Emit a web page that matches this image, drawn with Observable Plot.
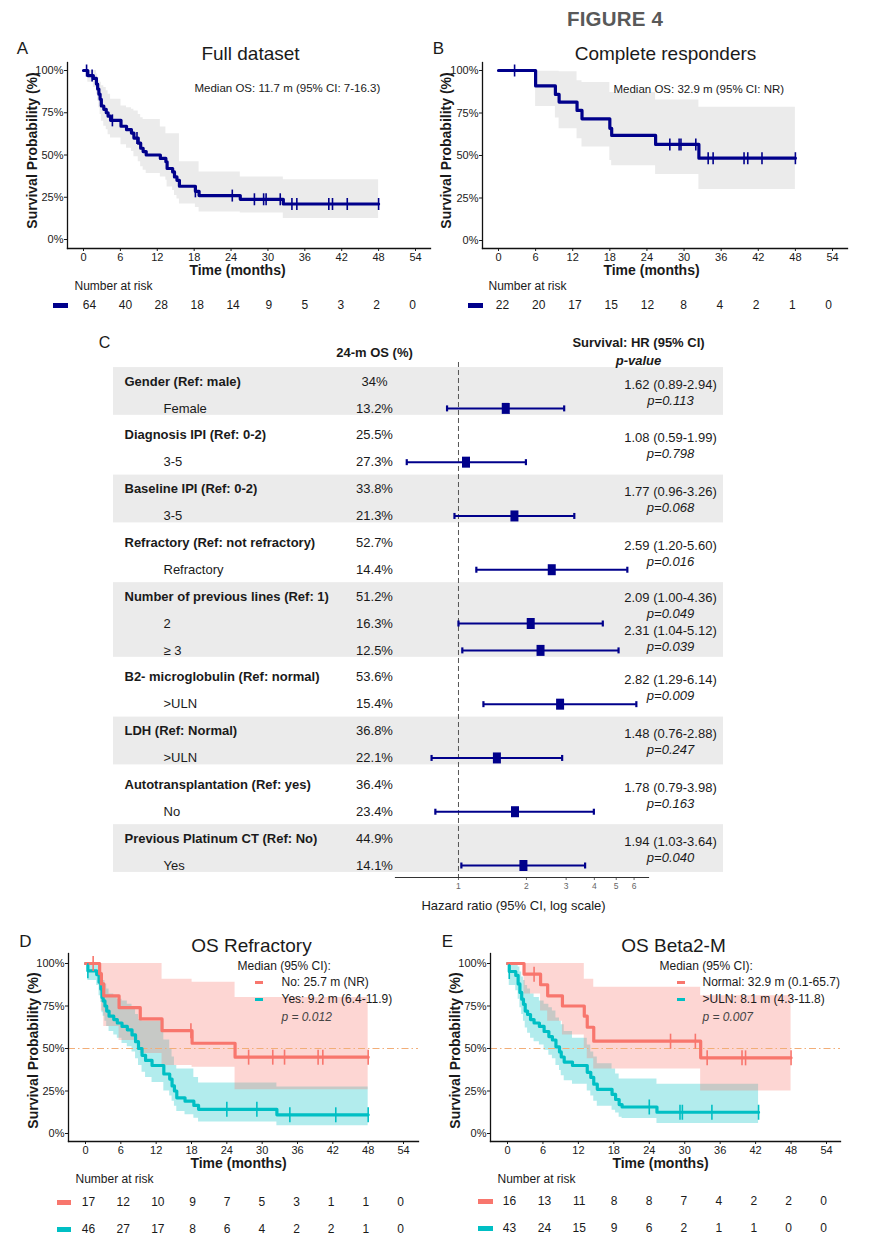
<!DOCTYPE html>
<html><head><meta charset="utf-8">
<script src="https://cdn.jsdelivr.net/npm/d3@7"></script>
<script src="https://cdn.jsdelivr.net/npm/@observablehq/plot@0.6"></script>
<style>
body{margin:0;background:#fff;}
#fig{position:relative;width:872px;height:1258px;background:#fff;font-family:'Liberation Sans',Arial,Helvetica,sans-serif;color:#1a1a1a;overflow:hidden}
#fig svg{position:absolute;overflow:visible}
.sw{position:absolute}
.ftitle{position:absolute;left:567px;top:7px;font-weight:bold;font-size:20.5px;color:#595959;letter-spacing:0.2px}
</style></head><body><div id="fig"><div class="ftitle">FIGURE 4</div></div>
<script>
// ---------- shared ----------
const monthTicks = [0,6,12,18,24,30,36,42,48,54];
const pctTicks = [0,0.25,0.5,0.75,1];
const medianLevel = 0.5;

// ---------- Panel A: Full dataset ----------
const aTime  = [0,0.7,1.6,2.1,2.3,2.5,2.7,2.9,3.3,3.7,4.0,4.4,6.1,7.0,7.8,8.2,8.9,9.3,9.7,10.2,12.5,13.4,13.6,14.5,14.8,15.2,15.6,18.2,18.8,25.5,32.5,48];
const aSurv  = [1,0.97,0.953,0.92,0.89,0.86,0.83,0.79,0.77,0.75,0.73,0.705,0.67,0.65,0.63,0.60,0.57,0.54,0.52,0.50,0.48,0.46,0.42,0.40,0.37,0.35,0.315,0.285,0.26,0.238,0.21,0.21];
const aUpper = [1,1,1,0.98,0.96,0.94,0.93,0.91,0.90,0.88,0.86,0.83,0.79,0.78,0.77,0.76,0.74,0.72,0.71,0.71,0.665,0.626,0.626,0.626,0.626,0.626,0.46,0.46,0.40,0.37,0.354,0.354];
const aLower = [1,0.93,0.90,0.86,0.82,0.78,0.74,0.70,0.67,0.65,0.62,0.60,0.56,0.54,0.52,0.49,0.46,0.43,0.41,0.39,0.37,0.35,0.31,0.29,0.26,0.24,0.21,0.19,0.163,0.157,0.124,0.124];
const aCensor = [0.5,1.4,4.7,8.7,18.2,24.2,27.8,29.3,29.7,32.0,33.9,34.7,39.9,40.5,42.9,48];
const aRisk = [64,40,28,18,14,9,5,3,2,0];

// ---------- Panel B: Complete responders ----------
const bTime  = [0,6.0,9.2,9.8,12.7,13.5,18.0,18.3,25.4,32.4,48];
const bSurv  = [1,0.909,0.859,0.814,0.765,0.716,0.66,0.618,0.565,0.484,0.484];
const bUpper = [1,0.996,0.996,0.992,0.94,0.93,0.87,0.87,0.827,0.784,0.784];
const bLower = [1,0.788,0.72,0.657,0.598,0.55,0.47,0.44,0.388,0.30,0.30];
const bCensor = [2.6,27.7,29.2,29.5,31.9,33.9,34.7,39.7,40.3,42.6,48];
const bRisk = [22,20,17,15,12,8,4,2,1,0];

// ---------- Panel D: OS Refractory ----------
const dRedTime  = [0,2.4,2.7,3.1,5.7,9.3,13.0,18.1,25.4,48];
const dRedSurv  = [1,0.94,0.88,0.81,0.74,0.674,0.605,0.531,0.449,0.449];
const dRedUpper = [1,1,1,1,1,1,0.908,0.889,0.80,0.80];
const dRedLower = [1,0.84,0.72,0.629,0.547,0.47,0.40,0.39,0.258,0.258];
const dRedCensor = [1.3,17.9,27.7,31.8,33.8,39.5,40.3,48];
const dTealTime  = [0,0.4,1.9,2.3,2.6,2.8,3.0,3.3,3.6,4.0,4.8,5.4,6.2,7.1,7.9,8.5,9.0,9.6,10.2,11.3,13.3,14.3,14.7,15.1,15.5,16.9,18.4,19.2,32.5,48];
const dTealSurv  = [1,0.957,0.935,0.89,0.85,0.80,0.78,0.75,0.72,0.69,0.67,0.65,0.63,0.61,0.58,0.54,0.50,0.46,0.43,0.40,0.35,0.32,0.28,0.25,0.21,0.19,0.165,0.142,0.11,0.11];
const dTealLower = [1,0.90,0.87,0.81,0.77,0.71,0.69,0.66,0.63,0.60,0.58,0.56,0.53,0.51,0.48,0.44,0.40,0.36,0.33,0.30,0.25,0.22,0.19,0.16,0.13,0.11,0.09,0.068,0.045,0.045];
const dTealUpper = [1,1,1,0.98,0.95,0.92,0.90,0.88,0.85,0.82,0.80,0.79,0.78,0.76,0.73,0.70,0.67,0.66,0.66,0.66,0.55,0.50,0.45,0.40,0.38,0.38,0.33,0.297,0.273,0.273];
const dTealCensor = [0.4,24.0,29.1,34.7,42.5,48];
const dRiskRed  = [17,12,10,9,7,5,3,1,1,0];
const dRiskTeal = [46,27,17,8,6,4,2,2,1,0];
const dLegend = ["Median (95% CI):","No: 25.7 m (NR)","Yes: 9.2 m (6.4-11.9)","p = 0.012"];

// ---------- Panel E: OS Beta2-M ----------
const eRedTime  = [0,2.8,5.6,6.8,9.3,13.0,13.5,14.6,32.7,48];
const eRedSurv  = [1,0.937,0.875,0.81,0.75,0.69,0.625,0.543,0.445,0.445];
const eRedUpper = [1,1,1,1,1,0.908,0.908,0.86,0.81,0.81];
const eRedLower = [1,0.82,0.72,0.66,0.58,0.50,0.44,0.38,0.25,0.25];
const eRedCensor = [4.5,27.6,31.8,33.8,39.7,40.3,48];
const eTealTime  = [0,0.3,1.4,1.8,2.1,2.4,2.7,3.0,3.4,3.9,4.5,5.4,6.2,7.0,7.6,8.2,8.8,9.1,9.6,11.0,13.5,14.1,14.6,15.2,17.7,18.3,18.9,19.4,25.3,42.5];
const eTealSurv  = [1,0.953,0.93,0.88,0.83,0.79,0.76,0.72,0.70,0.67,0.65,0.63,0.60,0.57,0.55,0.51,0.48,0.45,0.42,0.40,0.36,0.33,0.29,0.26,0.23,0.20,0.17,0.156,0.125,0.125];
const eTealUpper = [1,1,1,0.98,0.95,0.92,0.90,0.87,0.85,0.82,0.80,0.78,0.76,0.74,0.72,0.68,0.66,0.64,0.60,0.56,0.52,0.48,0.45,0.41,0.38,0.35,0.32,0.32,0.29,0.29];
const eTealLower = [1,0.87,0.84,0.79,0.74,0.70,0.66,0.62,0.59,0.56,0.54,0.52,0.49,0.46,0.44,0.40,0.37,0.34,0.31,0.29,0.25,0.22,0.19,0.16,0.137,0.12,0.095,0.088,0.059,0.059];
const eTealCensor = [0.3,24.0,29.2,29.6,34.6,42.5];
const eRiskRed  = [16,13,11,8,8,7,4,2,2,0];
const eRiskTeal = [43,24,15,9,6,2,1,1,0,0];
const eLegend = ["Median (95% CI):","Normal: 32.9 m (0.1-65.7)",">ULN: 8.1 m (4.3-11.8)","p = 0.007"];

// ---------- Panel C: forest plot ----------
const rowLabels = ["Gender (Ref: male)","Female","Diagnosis IPI (Ref: 0-2)","3-5","Baseline IPI (Ref: 0-2)","3-5",
  "Refractory (Ref: not refractory)","Refractory","Number of previous lines (Ref: 1)","2","\u2265 3",
  "B2- microglobulin (Ref: normal)",">ULN","LDH (Ref: Normal)",">ULN","Autotransplantation (Ref: yes)","No",
  "Previous Platinum CT (Ref: No)","Yes"];
const rowIsHeader = [1,0,1,0,1,0,1,0,1,0,0,1,0,1,0,1,0,1,0];
const os24 = ["34%","13.2%","25.5%","27.3%","33.8%","21.3%","52.7%","14.4%","51.2%","16.3%","12.5%","53.6%","15.4%","36.8%","22.1%","36.4%","23.4%","44.9%","14.1%"];
const hrRow = [1,3,5,7,9,10,12,14,16,18];
const hrEst = [1.62,1.08,1.77,2.59,2.09,2.31,2.82,1.48,1.78,1.94];
const hrLo  = [0.89,0.59,0.96,1.20,1.00,1.04,1.29,0.76,0.79,1.03];
const hrHi  = [2.94,1.99,3.26,5.60,4.36,5.12,6.14,2.88,3.98,3.64];
const hrP   = ["0.113","0.798","0.068","0.016","0.049","0.039","0.009","0.247","0.163","0.040"];
const bandRows = [[0,1],[4,5],[8,10],[13,14],[17,18]];
const hrTicks = [1,2,3,4,5,6];

// ---------- styling ----------
const FF = "'Liberation Sans', Arial, Helvetica, sans-serif";
const INK = "#1a1a1a";
const NAVY = "#00008B", RED = "#F8766D", TEAL = "#00BFC4";
const fig = document.getElementById("fig");

function place(svg, L, T){ svg.style.position="absolute"; svg.style.left=L+"px"; svg.style.top=T+"px"; fig.appendChild(svg); }
const vbar = len => ({draw(ctx){ctx.moveTo(0,-len/2);ctx.lineTo(0,len/2);}});
const boxSym = {draw(ctx){ctx.rect(-4,-5.5,8,11);}};
function stepAt(times, vals, t){ let v = vals[0]; for (let i=0;i<times.length;i++) if (times[i] <= t) v = vals[i]; return v; }
function swatch(x0,x1,y,color,th){
  const d=document.createElement("div"); d.className="sw";
  Object.assign(d.style,{left:x0+"px",top:(y-th/2)+"px",width:(x1-x0)+"px",height:th+"px",background:color});
  fig.appendChild(d);
}

function kmPanel(cfg){
  const {L,T,W,H,yAxisX,xAxisY,top,right,xr,yr} = cfg;
  const ml=yAxisX-L, mt=top-T, mr=L+W-right, mb=T+H-xAxisY;
  const fx=L+ml, fy=T+mt;
  const at=(s,px,py,o={})=>Plot.text([s],{text:d=>d,frameAnchor:"top-left",dx:px-fx,dy:py-fy,lineAnchor:"middle",fill:INK,...o});
  const marks=[];
  for(const c of cfg.curves){
    const pts=c.time.map((t,i)=>({t,lo:c.lower[i],hi:c.upper[i]}));
    marks.push(Plot.areaY(pts,{x:"t",y1:"lo",y2:"hi",curve:"step-after",fill:c.band,fillOpacity:c.bandOpacity}));
  }
  if(cfg.medianLine) marks.push(Plot.ruleY([medianLevel],{stroke:"#f2ae78",strokeWidth:1.1,strokeDasharray:"7,3,1.5,3"}));
  for(const c of cfg.curves){
    const pts=c.time.map((t,i)=>({t,s:c.surv[i]}));
    marks.push(Plot.line(pts,{x:"t",y:"s",curve:"step-after",stroke:c.color,strokeWidth:3.2}));
  }
  for(const c of cfg.curves){
    const cs=c.censor.map(t=>({t,s:stepAt(c.time,c.surv,t)}));
    marks.push(Plot.dot(cs,{x:"t",y:"s",symbol:vbar(cfg.censorLen),fill:"none",stroke:c.color,strokeWidth:1.6}));
  }
  marks.push(Plot.axisX({ticks:monthTicks,tickSize:3,tickPadding:2,label:null,fontSize:11,color:INK}));
  marks.push(Plot.axisY({ticks:pctTicks,tickFormat:d3.format(".0%"),tickSize:3,tickPadding:1,label:null,fontSize:11,color:INK}));
  marks.push(Plot.frame({anchor:"left",stroke:"#111",strokeWidth:1.3}));
  marks.push(Plot.frame({anchor:"bottom",stroke:"#111",strokeWidth:1.3}));
  marks.push(at(cfg.letter,cfg.letterPos[0],cfg.letterPos[1],{fontSize:17,textAnchor:"middle"}));
  marks.push(at(cfg.title,cfg.titlePos[0],cfg.titlePos[1],{fontSize:19,textAnchor:"middle"}));
  marks.push(at("Survival Probability (%)",cfg.yTitlePos[0],cfg.yTitlePos[1],{fontSize:14,fontWeight:"bold",rotate:-90,textAnchor:"middle"}));
  marks.push(at("Time (months)",cfg.xTitlePos[0],cfg.xTitlePos[1],{fontSize:14,fontWeight:"bold",textAnchor:"middle"}));
  for(const n of cfg.notes) marks.push(at(n.text,n.x,n.y,{fontSize:n.size,textAnchor:"start",fontStyle:n.italic?"italic":"normal",fill:n.fill||INK}));
  const svg=Plot.plot({
    width:W,height:H,marginLeft:ml,marginTop:mt,marginRight:mr,marginBottom:mb,
    x:{domain:[0,54],range:[xr[0]-L,xr[1]-L]},
    y:{domain:[0,1],range:[yr[0]-T,yr[1]-T]},
    style:{fontFamily:FF,fontSize:"11px",background:"transparent",overflow:"visible",color:INK},
    marks
  });
  place(svg,L,T);
}

function riskTable(cfg){
  const {L,T,W,H,swX0,swX1,rowY,numX,labelPos,groups} = cfg;
  const ml=swX0-L, mr=L+W-swX1;
  const data=groups.flatMap((g,gi)=>g.n.map((n,i)=>({t:monthTicks[i],g:gi,n})));
  const marks=[];
  groups.forEach((g,gi)=>marks.push(Plot.ruleY([gi],{stroke:g.color,strokeWidth:5})));
  marks.push(Plot.text(data,{x:"t",y:"g",text:"n",fontSize:12,fill:INK}));
  marks.push(Plot.text(["Number at risk"],{text:d=>d,frameAnchor:"top-left",dx:labelPos[0]-(L+ml),dy:labelPos[1]-T,textAnchor:"start",lineAnchor:"middle",fontSize:12,fill:INK}));
  const svg=Plot.plot({
    width:W,height:H,marginLeft:ml,marginRight:mr,marginTop:0,marginBottom:0,
    x:{domain:[0,54],range:[numX[0]-L,numX[1]-L],axis:null},
    y:{domain:[0,1],range:[rowY-T,rowY-T+27],axis:null},
    style:{fontFamily:FF,background:"transparent",overflow:"visible"},
    marks
  });
  place(svg,L,T);
}

// ---------- Panel A ----------
kmPanel({L:0,T:30,W:432,H:260,yAxisX:67,xAxisY:248,top:62,right:430,xr:[83,415],yr:[239,70],censorLen:12,
  letter:"A",letterPos:[22,48],title:"Full dataset",titlePos:[250,53],yTitlePos:[32,150],xTitlePos:[237,270],
  curves:[{time:aTime,surv:aSurv,lower:aLower,upper:aUpper,censor:aCensor,color:NAVY,band:"#ebebeb",bandOpacity:1}],
  notes:[{text:"Median OS: 11.7 m (95% CI: 7-16.3)",x:194,y:88,size:11.5}]});
riskTable({L:0,T:270,W:430,H:50,swX0:53,swX1:68,rowY:305,numX:[89,412],labelPos:[74,286],groups:[{n:aRisk,color:NAVY}]});

// ---------- Panel B ----------
kmPanel({L:430,T:30,W:430,H:260,yAxisX:482,xAxisY:248,top:62,right:847,xr:[498,832],yr:[240,70],censorLen:12,
  letter:"B",letterPos:[438,48],title:"Complete responders",titlePos:[665,53],yTitlePos:[446,150],xTitlePos:[651,270],
  curves:[{time:bTime,surv:bSurv,lower:bLower,upper:bUpper,censor:bCensor,color:NAVY,band:"#ebebeb",bandOpacity:1}],
  notes:[{text:"Median OS: 32.9 m (95% CI: NR)",x:613,y:89,size:11.5}]});
riskTable({L:430,T:270,W:430,H:50,swX0:468,swX1:483,rowY:305,numX:[502,828],labelPos:[488,286],groups:[{n:bRisk,color:NAVY}]});

// ---------- Panel D ----------
kmPanel({L:0,T:920,W:430,H:250,yAxisX:68,xAxisY:1141,top:953,right:418,xr:[85,403],yr:[1133,963],censorLen:15,medianLine:true,
  letter:"D",letterPos:[25,941],title:"OS Refractory",titlePos:[251,945],yTitlePos:[33,1050],xTitlePos:[238,1163],
  curves:[
    {time:dTealTime,surv:dTealSurv,lower:dTealLower,upper:dTealUpper,censor:dTealCensor,color:TEAL,band:TEAL,bandOpacity:0.3},
    {time:dRedTime,surv:dRedSurv,lower:dRedLower,upper:dRedUpper,censor:dRedCensor,color:RED,band:RED,bandOpacity:0.3}],
  notes:[{text:dLegend[0],x:237,y:966,size:12},{text:dLegend[1],x:281,y:982,size:12},{text:dLegend[2],x:281,y:999,size:12},{text:dLegend[3],x:281,y:1017,size:12,italic:true,fill:"#444"}]});
swatch(255,263,982,RED,3); swatch(255,263,999,TEAL,3);
riskTable({L:0,T:1165,W:430,H:80,swX0:57,swX1:71,rowY:1202,numX:[88,400],labelPos:[75,1179],groups:[{n:dRiskRed,color:RED},{n:dRiskTeal,color:TEAL}]});

// ---------- Panel E ----------
kmPanel({L:430,T:920,W:430,H:250,yAxisX:490,xAxisY:1141,top:953,right:840,xr:[507,826],yr:[1133,963],censorLen:15,medianLine:true,
  letter:"E",letterPos:[447,941],title:"OS Beta2-M",titlePos:[673,945],yTitlePos:[455,1050],xTitlePos:[660,1163],
  curves:[
    {time:eTealTime,surv:eTealSurv,lower:eTealLower,upper:eTealUpper,censor:eTealCensor,color:TEAL,band:TEAL,bandOpacity:0.3},
    {time:eRedTime,surv:eRedSurv,lower:eRedLower,upper:eRedUpper,censor:eRedCensor,color:RED,band:RED,bandOpacity:0.3}],
  notes:[{text:eLegend[0],x:659,y:966,size:12},{text:eLegend[1],x:702,y:982,size:12},{text:eLegend[2],x:702,y:999,size:12},{text:eLegend[3],x:702,y:1017,size:12,italic:true,fill:"#444"}]});
swatch(677,685,982,RED,3); swatch(677,685,999,TEAL,3);
riskTable({L:430,T:1165,W:430,H:80,swX0:478,swX1:493,rowY:1201,numX:[509,823],labelPos:[497,1179],groups:[{n:eRiskRed,color:RED},{n:eRiskTeal,color:TEAL}]});

// ---------- Panel C: forest ----------
(function(){
  const L=100,T=330,W=630,H=590,ml=295,mr=82,mt=32,mb=43;
  const fx=L+ml, fy=T+mt;
  const rows=rowLabels.map((label,i)=>({i,label,pct:os24[i],head:rowIsHeader[i]}));
  // text pairs shift apart when two estimate rows are adjacent
  const hr=hrRow.map((r,k)=>({row:r,hr:hrEst[k],lo:hrLo[k],hi:hrHi[k],p:hrP[k],
    shift:(hrRow.includes(r-1)?4:0)+(hrRow.includes(r+1)?-2:0)}));
  const bands=bandRows.map(([a,b])=>({a,b}));
  const f2=d3.format(".2f");
  const at=(s,px,py,o={})=>Plot.text([s],{text:d=>d,frameAnchor:"top-left",dx:px-fx,dy:py-fy,lineAnchor:"middle",fill:INK,...o});
  const hrTextMarks=[];
  for(const s of [...new Set(hr.map(d=>d.shift))]){
    const sub=hr.filter(d=>d.shift===s);
    hrTextMarks.push(Plot.text(sub,{y:"row",text:d=>`${f2(d.hr)} (${f2(d.lo)}-${f2(d.hi)})`,frameAnchor:"left",dx:670-fx,dy:-24+s,textAnchor:"middle",fontSize:13,fill:INK}));
    hrTextMarks.push(Plot.text(sub,{y:"row",text:d=>`p=${d.p}`,frameAnchor:"left",dx:670-fx,dy:-8+s,textAnchor:"middle",fontSize:13,fontStyle:"italic",fill:INK}));
  }
  const svg=Plot.plot({
    width:W,height:H,marginLeft:ml,marginRight:mr,marginTop:mt,marginBottom:mb,
    x:{type:"log",domain:[0.526,6.95]},
    y:{domain:[0,18],range:[381-T,865-T],axis:null},
    style:{fontFamily:FF,background:"transparent",overflow:"visible",color:INK},
    marks:[
      Plot.rect(bands,{y1:d=>d.a-0.5,y2:d=>d.b+0.5,fill:"#ebebeb",insetLeft:-(fx-113),insetRight:-(723-648),insetTop:-0.5,insetBottom:6.5}),
      Plot.ruleX([1],{stroke:"#555",strokeDasharray:"5,3",strokeWidth:1}),
      Plot.ruleY(hr,{y:"row",x1:"lo",x2:"hi",stroke:NAVY,strokeWidth:2}),
      Plot.dot(hr,{x:"lo",y:"row",symbol:vbar(6),fill:"none",stroke:NAVY,strokeWidth:2.2}),
      Plot.dot(hr,{x:"hi",y:"row",symbol:vbar(6),fill:"none",stroke:NAVY,strokeWidth:2.2}),
      Plot.dot(hr,{x:"hr",y:"row",symbol:boxSym,fill:NAVY,stroke:"none"}),
      Plot.text(rows.filter(d=>d.head),{y:"i",text:"label",frameAnchor:"left",dx:124-fx,textAnchor:"start",fontWeight:"bold",fontSize:13,fill:INK}),
      Plot.text(rows.filter(d=>!d.head),{y:"i",text:"label",frameAnchor:"left",dx:163-fx,textAnchor:"start",fontSize:13,fill:INK}),
      Plot.text(rows,{y:"i",text:"pct",frameAnchor:"left",dx:374-fx,textAnchor:"middle",fontSize:13,fill:INK}),
      ...hrTextMarks,
      Plot.axisX({ticks:hrTicks,tickFormat:d=>String(d),tickSize:3,tickPadding:2,fontSize:8.5,color:"#666",label:null}),
      Plot.frame({anchor:"bottom",stroke:"#333",strokeWidth:1.2}),
      at("C",104,342,{fontSize:16,textAnchor:"middle"}),
      at("24-m OS (%)",374,352,{fontSize:13,fontWeight:"bold",textAnchor:"middle"}),
      at("Survival: HR (95% CI)",638,342,{fontSize:13,fontWeight:"bold",textAnchor:"middle"}),
      at("p-value",638,360,{fontSize:13,fontWeight:"bold",fontStyle:"italic",textAnchor:"middle"}),
      at("Hazard ratio (95% CI, log scale)",513,905,{fontSize:13,textAnchor:"middle"})
    ]
  });
  place(svg,L,T);
})();
</script></body></html>
